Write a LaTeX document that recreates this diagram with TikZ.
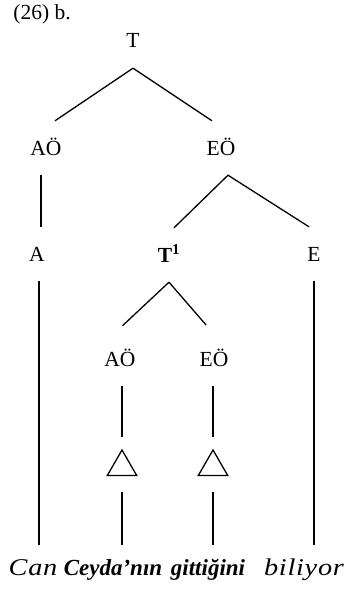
\documentclass[tikz,border=0pt]{standalone}
\usepackage{fontspec}
\setmainfont{Liberation Serif}
\newfontfamily\wideserif[FakeStretch=1.18, LetterSpace=3]{Liberation Serif}
\usetikzlibrary{shapes.geometric}
\tikzset{
  % category labels of the tree
  lbl/.style={
    font=\fontsize{21.5}{24}\selectfont,
    text height=14pt, text depth=0pt,
    inner xsep=2pt, inner ysep=20pt,
  },
  % roof over an unanalysed phrase
  roof/.style={
    draw, regular polygon, regular polygon sides=3,
    minimum size=34pt, inner sep=0pt, line width=1.3pt,
  },
  % terminal words
  word/.style={
    font=\fontsize{24}{28}\selectfont\wideserif\itshape,
    text height=16pt, text depth=5pt,
    inner xsep=2pt, inner ysep=14pt, anchor=base,
  },
  bword/.style={
    word, font=\fontsize{23}{28}\selectfont\bfseries\itshape,
  },
  edge/.style={line width=1.3pt},
}
\begin{document}
\begin{tikzpicture}[x=1pt, y=-1pt]
  \useasboundingbox[fill=white] (0,0) rectangle (351,591);
  \node[font=\fontsize{21.5}{24}\selectfont] (hdr) at (42,14) {(26) b.};
  % upper part
  \node[lbl] (T) at (133,41) {T};
  \node[lbl] (AO1) at (46,148) {AÖ};
  \node[lbl] (EO1) at (221,148) {EÖ};
  \node[lbl] (A) at (37,254) {A};
  \node[lbl] (T1) at (169,255) {\textbf{T}\textsuperscript{\textbf{1}}};
  \node[lbl] (E) at (314,254) {E};
  % embedded clause
  \node[lbl] (AO2) at (120,359) {AÖ};
  \node[lbl] (EO2) at (214,359) {EÖ};
  \node[roof] (tri1) at (122,467) {};
  \node[roof] (tri2) at (213,467) {};
  % words
  \node[word] (can) at (33,575) {Can};
  \node[bword] (ceyda) at (113,575) {Ceyda’nın};
  \node[bword] (gitt) at (208,575) {gittiğini};
  \node[word] (bil) at (304,575) {biliyor};

  \draw[edge] (T.south) -- ([xshift=9pt]AO1.north);
  \draw[edge] (T.south) -- ([xshift=-9pt]EO1.north);
  \draw[edge] ([xshift=-5pt]AO1.south) -- ([xshift=4pt]A.north);
  \draw[edge] ([xshift=5pt]T1.north) -- ([xshift=7pt]EO1.south)
    -- ([xshift=-5pt]E.north);
  \draw[edge, shorten >=9pt] (T1.south) -- ([xshift=-4pt]AO2.north);
  \draw[edge, shorten >=9pt] (T1.south) -- ([xshift=-2pt]EO2.north);
  \draw[edge, shorten >=12pt] (tri1.north |- AO2.south) -- (tri1.north);
  \draw[edge, shorten >=12pt] (tri2.north |- EO2.south) -- (tri2.north);
  \draw[edge, shorten <=16pt] (tri1.south) -- (tri1.south |- ceyda.north);
  \draw[edge, shorten <=16pt] (tri2.south) -- (tri2.south |- gitt.north);
  \draw[edge] (A.south) ++(2pt,0) -- ([xshift=2pt]A.south |- can.north);
  \draw[edge] (E.south) -- (E.south |- bil.north);
\end{tikzpicture}
\end{document}
